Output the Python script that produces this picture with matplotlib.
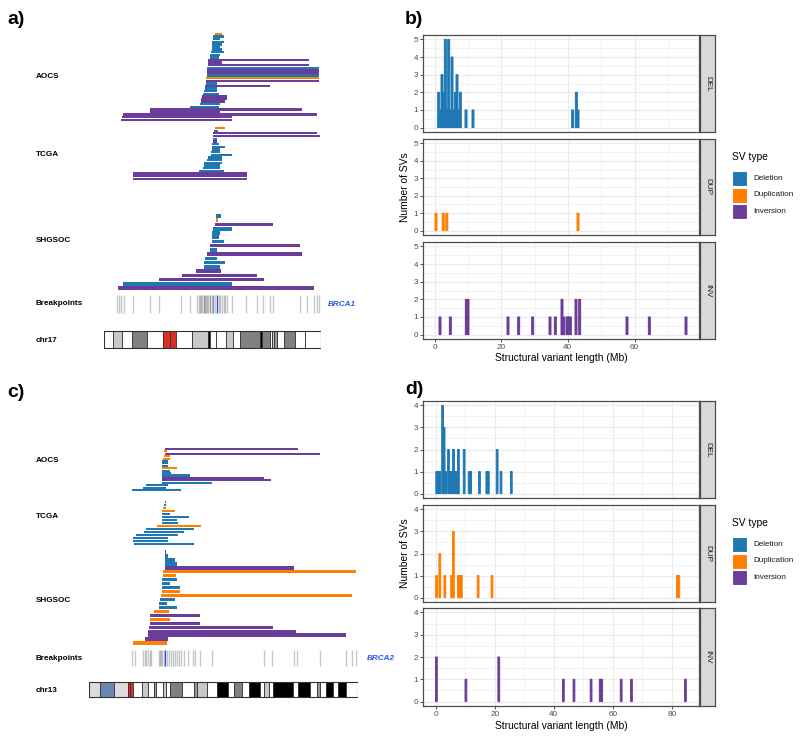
import matplotlib

matplotlib.use("Agg")

import matplotlib.pyplot as plt
from matplotlib.patches import Rectangle

plt.rcParams["font.family"] = ["Liberation Sans", "DejaVu Sans"]

FIG_W, FIG_H = 800, 738
SV_COLORS = {"D": "#1F78B4", "U": "#FF7F00", "I": "#6A3D9A"}
LEGEND_NAMES = ["Deletion", "Duplication", "Inversion"]
STAIN_COLORS = {
    "gneg": "#FFFFFF", "gpos25": "#C8C8C8", "gpos50": "#999999", "gpos75": "#808080",
    "gpos100": "#000000", "acen": "#D92F27", "stalk": "#6B86B3", "gvar": "#DCDCDC",
}

# ---------------- panel a: chr17 around BRCA1 (Mb) ----------------
chr17_len = 83.3
a_aocs_start = [42.7, 42.0, 42.0, 41.4, 41.4, 41.4, 41.4, 41.2, 40.8, 40.5, 40.1, 40.1, 40.1, 39.7, 39.7, 39.5, 39.5,
                39.2, 39.2, 39.2, 38.8, 38.6, 38.2, 38.0, 37.6, 37.3, 37.3, 36.9, 33.1, 17.7, 17.7, 7.4, 6.8, 6.4]
a_aocs_end = [45.3, 45.9, 44.6, 45.9, 45.3, 44.6, 45.3, 45.9, 44.6, 44.0, 78.6, 45.3, 78.6, 82.4, 82.4, 82.4, 82.4,
              82.4, 82.4, 43.3, 63.8, 43.3, 43.3, 44.0, 47.2, 47.2, 46.5, 44.4, 44.0, 76.0, 44.6, 81.8, 49.1, 49.1]
a_aocs_type = "UDDDDDDDDDIIIDIIDUIDIDDDIIIDDIIIII"

a_tcga_start = [42.7, 42.3, 42.0, 42.0, 41.8, 41.8, 41.4, 41.4, 41.4, 41.2, 41.2, 40.1, 39.7, 38.5, 38.2, 38.0, 36.4,
                11.0, 11.0, 11.0]
a_tcga_end = [46.5, 43.6, 81.8, 83.1, 43.3, 43.3, 44.0, 46.5, 44.6, 44.6, 49.1, 45.3, 45.3, 45.3, 44.6, 44.6, 45.9,
              54.9, 54.9, 54.9]
a_tcga_type = "UDIIDIDDDDDDDDDDDIII"

a_shg_start = [43.1, 43.1, 42.7, 41.8, 41.5, 41.5, 41.4, 40.8, 40.5, 39.7, 38.7, 38.5, 38.2, 35.4, 29.9, 21.3, 7.4, 5.3]
a_shg_end = [44.9, 43.6, 64.9, 49.1, 44.6, 44.0, 45.9, 75.4, 43.3, 76.0, 43.3, 46.5, 44.6, 44.9, 58.7, 61.3, 49.1, 80.5]
a_shg_type = "DUIDDDDIDIDDDIIIDI"

a_breakpoints = [5.1, 5.8, 6.4, 7.7, 11.0, 17.7, 21.2, 29.6, 33.1, 35.6, 36.3, 36.9, 37.3, 37.6, 38.2, 38.5, 38.8, 39.2,
                 39.5, 40.1, 40.5, 40.8, 41.4, 41.8, 42.0, 42.7, 44.0, 44.6, 45.3, 45.9, 46.5, 47.2, 49.1, 54.5, 58.7,
                 61.0, 63.8, 64.7, 75.4, 78.0, 80.5, 81.8, 82.4]
brca1_pos = 43.3

chr17_bounds = [0, 3.6, 6.8, 10.9, 16.4, 22.8, 25.4, 27.7, 33.7, 40.1, 40.8, 43.1, 46.9, 49.5, 52.3, 60.0, 60.6, 63.6,
                64.5, 65.1, 66.4, 69.2, 73.5, 77.3, 83.3]
chr17_stains = ["gneg", "gpos25", "gneg", "gpos75", "gneg", "acen", "acen", "gneg", "gpos25", "gpos100", "gneg",
                "gneg", "gpos25", "gneg", "gpos75", "gpos100", "gpos75", "gneg", "gpos25", "gpos50", "gneg",
                "gpos75", "gneg", "gneg"]

# ---------------- panel c: chr13 around BRCA2 (Mb) ----------------
chr13_len = 114.4
c_aocs_start = [32.2, 31.9, 32.2, 31.8, 31.5, 31.2, 31.2, 31.2, 31.2, 31.2, 31.2, 31.2, 31.2, 31.2, 31.2, 24.4, 23.0,
                18.4]
c_aocs_end = [88.7, 33.3, 98.2, 34.3, 34.3, 33.6, 33.6, 33.6, 37.4, 34.3, 35.0, 42.8, 74.3, 77.5, 52.4, 33.6, 32.9, 39.0]
c_aocs_type = "IUIUUDDDUDDDIIDDDD"

c_tcga_start = [32.3, 31.9, 31.5, 31.2, 31.2, 31.2, 31.2, 31.2, 29.0, 24.2, 23.3, 19.9, 18.8, 18.8, 19.1]
c_tcga_end = [32.6, 32.9, 32.9, 36.4, 34.3, 42.5, 37.6, 37.9, 47.7, 44.6, 40.4, 37.9, 33.6, 33.6, 44.6]
c_tcga_type = "DDUUDDDDUDDDDDD"

c_shg_start = [32.5, 32.5, 32.5, 32.5, 32.2, 31.5, 31.5, 31.2, 31.2, 31.2, 31.2, 30.8, 30.1, 29.7, 29.7, 27.5, 26.1,
               26.1, 25.8, 25.6, 25.1, 25.1, 23.7, 18.8]
c_shg_end = [32.6, 33.6, 36.4, 37.4, 87.3, 113.7, 37.1, 37.4, 34.3, 38.6, 38.6, 112.0, 36.4, 33.2, 37.6, 34.0, 47.3,
             34.3, 47.0, 78.1, 88.0, 109.5, 33.6, 33.3]
c_shg_type = "IDDDIUUDDDUUDDDUIUIIIIIU"

c_breakpoints = [18.4, 19.5, 23.0, 23.7, 24.4, 25.1, 25.8, 26.3, 29.7, 30.1, 30.8, 31.2, 31.8, 33.2, 33.9, 34.7, 35.7,
                 36.4, 37.6, 38.3, 39.0, 40.4, 42.1, 44.2, 44.9, 47.3, 52.3, 74.3, 77.8, 87.3, 88.4, 98.2, 109.2,
                 112.0, 113.7]
brca2_pos = 32.3

chr13_bounds = [0, 4.7, 10.6, 16.4, 17.6, 18.8, 22.7, 25.1, 27.5, 28.4, 31.5, 32.6, 34.6, 39.6, 44.5, 45.9, 50.1,
                54.4, 59.0, 61.5, 65.1, 67.9, 72.7, 74.6, 76.7, 78.1, 86.9, 89.0, 94.1, 96.9, 98.2, 100.7, 103.8,
                106.0, 109.5, 114.4]
chr13_stains = ["gvar", "stalk", "gvar", "acen", "acen", "gneg", "gpos25", "gneg", "gpos50", "gneg", "gpos25", "gneg",
                "gpos75", "gneg", "gpos50", "gpos25", "gneg", "gpos100", "gneg", "gpos75", "gneg", "gpos100", "gneg",
                "gpos25", "gneg", "gpos100", "gneg", "gpos100", "gneg", "gpos50", "gneg", "gpos100", "gneg",
                "gpos100", "gneg"]

# ---------------- panel b: SV length histograms, BRCA1 (Mb bins) ----------------
b_del_pos = [1.25, 1.75, 2.25, 2.75, 3.25, 3.75, 4.25, 4.75, 5.25, 5.75, 6.25, 6.75, 7.25, 7.75, 9.45, 11.55,
             41.45, 42.55, 43.05]
b_del_cnt = [2, 1, 3, 2, 5, 1, 5, 1, 4, 1, 2, 3, 1, 2, 1, 1, 1, 2, 1]
b_dup_pos = [0.45, 2.6, 3.7, 43.05]
b_dup_cnt = [1, 1, 1, 1]
b_inv_pos = [1.65, 4.75, 9.55, 10.05, 22.05, 25.25, 29.45, 34.65, 36.25, 38.25, 38.75, 39.75, 40.25, 40.75, 42.45,
             43.55, 57.75, 64.45, 75.45]
b_inv_cnt = [1, 1, 2, 2, 1, 1, 1, 1, 1, 2, 1, 1, 1, 1, 2, 2, 1, 1, 1]

# ---------------- panel d: SV length histograms, BRCA2 (Mb bins) ----------------
d_del_pos = [0.25, 0.75, 1.25, 2.25, 2.75, 3.25, 4.25, 4.75, 5.25, 5.95, 6.45, 6.95, 7.6, 9.55, 11.25, 11.75, 14.75,
             17.25, 17.75, 20.75, 22.05, 25.55]
d_del_cnt = [1, 1, 1, 4, 3, 1, 2, 1, 1, 2, 1, 1, 2, 2, 1, 1, 1, 1, 1, 2, 1, 1]
d_dup_pos = [0.2, 1.3, 3.0, 5.3, 5.9, 7.6, 8.1, 8.6, 14.3, 19.0, 81.85, 82.35]
d_dup_cnt = [1, 2, 1, 1, 3, 1, 1, 1, 1, 1, 1, 1]
d_inv_pos = [0.15, 10.15, 21.3, 43.2, 46.8, 52.6, 55.7, 56.2, 62.8, 66.3, 84.6]
d_inv_cnt = [2, 1, 2, 1, 1, 1, 1, 1, 1, 1, 1]


def px_axes(fig, x0, y0, x1, y1):
    return fig.add_axes([x0 / FIG_W, 1 - y1 / FIG_H, (x1 - x0) / FIG_W, (y1 - y0) / FIG_H])


def fig_text(fig, x, y, s, **kw):
    fig.text(x / FIG_W, 1 - y / FIG_H, s, **kw)


def draw_locus(fig, box, chrom_len, groups, breakpoints, gene_pos, gene, bands, stains, bp_rows, ideo_rows,
               labels, gene_xy):
    ax = px_axes(fig, *box)
    ax.set_xlim(0, chrom_len)
    ax.set_ylim(box[3], box[1])
    ax.axis("off")

    for (starts, ends, kinds), (top, row_h) in groups:
        ys = [top + i * row_h for i in range(len(starts))]
        widths = [e - s for s, e in zip(starts, ends)]
        ax.barh(ys, widths, left=starts, height=row_h * 0.85,
                color=[SV_COLORS[k] for k in kinds], linewidth=0)

    ax.vlines(breakpoints, bp_rows[0], bp_rows[1], color="#000000", alpha=0.22, lw=1.0)
    ax.vlines([gene_pos], bp_rows[0], bp_rows[1], color="#2F55E8", lw=1.0)

    y0, y1 = ideo_rows
    for left, right, stain in zip(bands[:-1], bands[1:], stains):
        ax.add_patch(Rectangle((left, y0), right - left, y1 - y0, facecolor=STAIN_COLORS[stain],
                               edgecolor="#333333", lw=0.6))
    ax.add_patch(Rectangle((0, y0), chrom_len, y1 - y0, fill=False, edgecolor="#333333", lw=0.8))

    for name, ly in labels:
        fig_text(fig, 36, ly, name, fontsize=5.9, fontweight="bold", va="center", ha="left")
    fig_text(fig, gene_xy[0], gene_xy[1], gene, fontsize=5.9, fontweight="bold", fontstyle="italic",
             color="#2F55E8", va="center", ha="left")


def draw_histograms(fig, x_box, rows, series, xlim, ylim, xticks, xminor, yticks, xlabel_y, legend_top):
    strips = ["DEL", "DUP", "INV"]
    for i, ((top, bottom), (pos, cnt, kind)) in enumerate(zip(rows, series)):
        ax = px_axes(fig, x_box[0], top, x_box[1], bottom)
        ax.set_xlim(*xlim)
        ax.set_ylim(*ylim)
        ax.set_xticks(xticks)
        ax.set_xticks(xminor, minor=True)
        ax.set_yticks(yticks)
        ax.set_yticks([v + 0.5 for v in yticks[:-1]], minor=True)
        ax.grid(which="major", color="#EBEBEB", lw=0.9)
        ax.grid(which="minor", color="#EBEBEB", lw=0.45)
        ax.set_axisbelow(True)
        bars = ax.bar(pos, cnt, width=0.6, color=SV_COLORS[kind], edgecolor=SV_COLORS[kind], linewidth=0.7,
                      zorder=2)
        for b in bars:
            b.set_snap(False)
        for sp in ax.spines.values():
            sp.set_color("#4D4D4D")
            sp.set_linewidth(0.9)
        ax.tick_params(which="minor", length=0)
        ax.tick_params(which="major", length=2, width=0.6, color="#333333", labelsize=5.9,
                       labelcolor="#4D4D4D", pad=1.5)
        if i < 2:
            ax.tick_params(axis="x", which="major", length=0, labelbottom=False)

        st = px_axes(fig, x_box[1] + 1, top, x_box[1] + 16, bottom)
        st.set_facecolor("#D9D9D9")
        st.set_xticks([])
        st.set_yticks([])
        for sp in st.spines.values():
            sp.set_color("#4D4D4D")
            sp.set_linewidth(0.9)
        st.text(0.5, 0.5, strips[i], rotation=270, ha="center", va="center", fontsize=5.9,
                color="#1A1A1A", transform=st.transAxes)

    mid_y = (rows[0][0] + rows[-1][1]) / 2
    fig_text(fig, 405, mid_y, "Number of SVs", rotation=90, fontsize=7.4, ha="center", va="center")
    fig_text(fig, (x_box[0] + x_box[1]) / 2, xlabel_y, "Structural variant length (Mb)", fontsize=7.4,
             ha="center", va="center")

    fig_text(fig, 732, legend_top, "SV type", fontsize=7.4, ha="left", va="center")
    for j, (name, kind) in enumerate(zip(LEGEND_NAMES, "DUI")):
        ky = legend_top + 14 + j * 16.5
        fig.add_artist(Rectangle((732 / FIG_W, 1 - (ky + 15) / FIG_H), 15 / FIG_W, 15 / FIG_H,
                                 facecolor=SV_COLORS[kind], edgecolor="white", lw=0.8,
                                 transform=fig.transFigure))
        fig_text(fig, 753, ky + 7.5, name, fontsize=5.9, color="#1A1A1A", ha="left", va="center")


fig = plt.figure(figsize=(FIG_W / 100, FIG_H / 100), dpi=100)

draw_locus(
    fig, (104, 25, 321, 355), chr17_len,
    [((a_aocs_start, a_aocs_end, a_aocs_type), (34, 2.6)),
     ((a_tcga_start, a_tcga_end, a_tcga_type), (128, 2.68)),
     ((a_shg_start, a_shg_end, a_shg_type), (216, 4.24))],
    a_breakpoints, brca1_pos, "BRCA1", chr17_bounds, chr17_stains, (295, 313), (331, 348),
    [("AOCS", 77), ("TCGA", 154), ("SHGSOC", 240), ("Breakpoints", 303), ("chr17", 340)], (328, 305),
)

draw_locus(
    fig, (89, 400, 358, 720), chr13_len,
    [((c_aocs_start, c_aocs_end, c_aocs_type), (449, 2.41)),
     ((c_tcga_start, c_tcga_end, c_tcga_type), (502, 3.0)),
     ((c_shg_start, c_shg_end, c_shg_type), (552, 3.96))],
    c_breakpoints, brca2_pos, "BRCA2", chr13_bounds, chr13_stains, (650, 666), (682, 697),
    [("AOCS", 461), ("TCGA", 517), ("SHGSOC", 600), ("Breakpoints", 658), ("chr13", 690)], (367, 658),
)

draw_histograms(
    fig, (423, 699), [(35, 132), (139, 235), (242, 339)],
    [(b_del_pos, b_del_cnt, "D"), (b_dup_pos, b_dup_cnt, "U"), (b_inv_pos, b_inv_cnt, "I")],
    (-3.45, 79.35), (-0.25, 5.25), [0, 20, 40, 60], [10, 30, 50, 70], [0, 1, 2, 3, 4, 5], 358, 157,
)

draw_histograms(
    fig, (423, 699), [(401, 498), (505, 602), (608, 706)],
    [(d_del_pos, d_del_cnt, "D"), (d_dup_pos, d_dup_cnt, "U"), (d_inv_pos, d_inv_cnt, "I")],
    (-4.4, 89.2), (-0.2, 4.2), [0, 20, 40, 60, 80], [10, 30, 50, 70], [0, 1, 2, 3, 4], 726, 523,
)

for tag, x, y in [("a)", 7, 20), ("b)", 405, 20), ("c)", 7, 393), ("d)", 405, 390)]:
    fig_text(fig, x, y, tag, fontsize=14, fontweight="bold", ha="left", va="center")

fig.savefig("out.png", dpi=100)
